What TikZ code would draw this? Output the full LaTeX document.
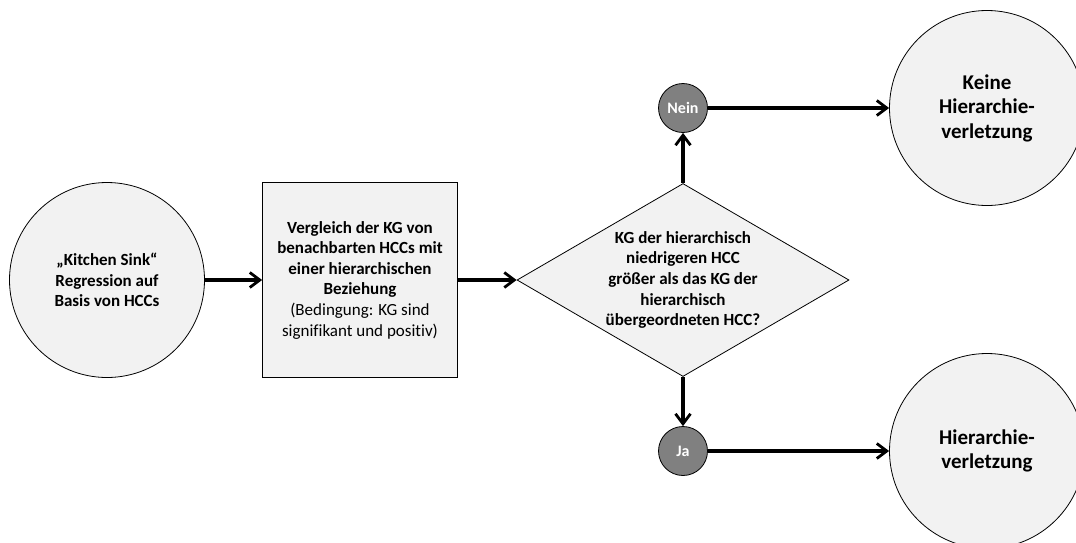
\documentclass[tikz,border=0pt]{standalone}
\usepackage{fontspec}
\setmainfont[Ligatures={NoCommon}]{Carlito}
\usetikzlibrary{shapes.geometric,arrows.meta}
\definecolor{shapefill}{HTML}{F2F2F2}
\definecolor{answerfill}{HTML}{808080}
\begin{document}
\begin{tikzpicture}[x=1pt, y=-1pt,
  every node/.style={font=\bfseries\fontsize{17}{20.6}\selectfont, align=center},
  endpoint/.style={circle, draw, line width=0.8pt, fill=shapefill, minimum size=195pt, inner sep=0pt},
  result/.style={endpoint, font=\bfseries\fontsize{21}{24.5}\selectfont},
  procbox/.style={rectangle, draw, line width=0.8pt, fill=shapefill, minimum width=195pt, minimum height=195pt, inner sep=0pt},
  decision/.style={diamond, draw, line width=0.8pt, fill=shapefill, aspect=1.72, minimum width=332pt, minimum height=193pt, inner sep=0pt},
  answer/.style={circle, draw, line width=0.8pt, fill=answerfill, text=white, minimum size=49pt, inner sep=0pt, font=\bfseries\fontsize{16}{18}\selectfont},
  flow/.style={line width=3.2pt, -{Straight Barb[length=10pt, width=15pt, line width=2.8pt]}}]
  \useasboundingbox (0,0) rectangle (1076,542);
  \clip (0,0) rectangle (1076,542);
  % nodes
  \node[endpoint] (start) at (107,280) {„Kitchen Sink“\\Regression auf\\Basis von HCCs};
  \node[procbox] (compare) at (360,280) {Vergleich der KG von\\benachbarten HCCs mit\\einer hierarchischen\\Beziehung\\\mdseries(Bedingung: KG sind\\\mdseries signifikant und positiv)};
  \node[decision] (check) at (683,280) {KG der hierarchisch\\niedrigeren HCC\\größer als das KG der\\hierarchisch\\übergeordneten HCC?};
  \node[answer] (nein) at (683,108) {Nein};
  \node[answer] (ja) at (683,451) {Ja};
  \node[result] (noviol) at (987,108) {Keine\\Hierarchie-\\verletzung};
  \node[result] (viol) at (987,451) {Hierarchie-\\verletzung};
  % connectors
  \draw[flow] (start) -- (compare);
  \draw[flow] (compare) -- (check);
  \draw[flow] (check) -- (nein);
  \draw[flow] (check) -- (ja);
  \draw[flow] (nein) -- (noviol);
  \draw[flow] (ja) -- (viol);
\end{tikzpicture}
\end{document}
